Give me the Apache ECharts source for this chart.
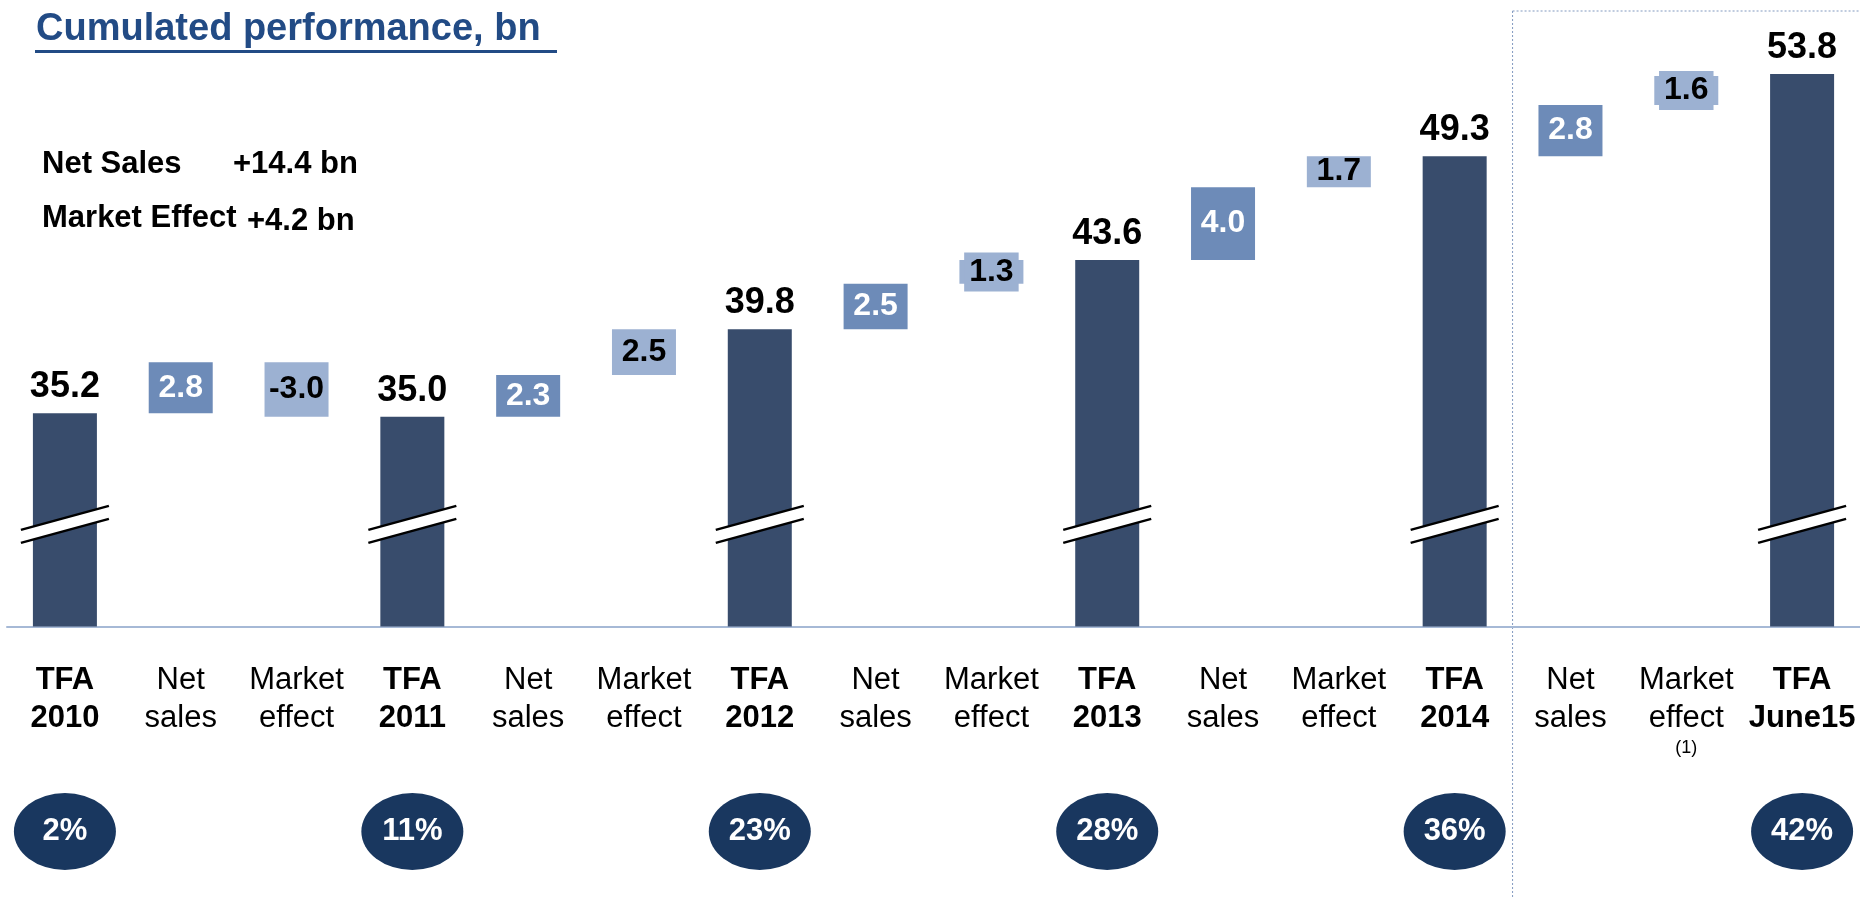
<!DOCTYPE html>
<html>
<head>
<meta charset="utf-8">
<title>Cumulated performance</title>
<script src="https://cdn.jsdelivr.net/npm/echarts@6/dist/echarts.min.js"></script>
<style>
html, body { margin: 0; padding: 0; background: #fff; }
#main { width: 1860px; height: 899px; }
</style>
</head>
<body>
<div id="main"></div>
<script>
// x axis categories
var categories = ['TFA\n2010', 'Net\nsales', 'Market\neffect', 'TFA\n2011', 'Net\nsales', 'Market\neffect',
    'TFA\n2012', 'Net\nsales', 'Market\neffect', 'TFA\n2013', 'Net\nsales', 'Market\neffect',
    'TFA\n2014', 'Net\nsales', 'Market\neffect\n(1)', 'TFA\nJune15'];
// TFA totals, bn
var totalIdx = [0, 3, 6, 9, 12, 15];
var totals = [35.2, 35.0, 39.8, 43.6, 49.3, 53.8];
// steps between two totals
var netSales = [2.8, 2.3, 2.5, 4.0, 2.8];
var marketEffect = [-3.0, 2.5, 1.3, 1.7, 1.6];
// percentages in the circles
var shares = [2, 11, 23, 28, 36, 42];
var summary = [['Net Sales', '+14.4 bn'], ['Market Effect', '+4.2 bn']];
var titleText = 'Cumulated performance, bn';
var breakAt = 29.1; // where the axis break is drawn

var FONT = '"Liberation Sans", Arial, sans-serif';
var cDark = '#384c6c', cNet = '#6d8bb8', cMkt = '#9cb1d2', cCircle = '#19375f', cTitle = '#224b85';

var chart = echarts.init(document.getElementById('main'));

// waterfall: invisible base + visible part
var n = categories.length;
var base = [], totalData = [], netData = [], mktData = [];
for (var i = 0; i < n; i++) { base.push('-'); totalData.push('-'); netData.push('-'); mktData.push('-'); }
for (var k = 0; k < totals.length; k++) {
    base[totalIdx[k]] = 0;
    totalData[totalIdx[k]] = totals[k];
}
for (var k = 0; k < netSales.length; k++) {
    var a = totalIdx[k] + 1, b = a + 1;
    var level = totals[k];
    base[a] = level;
    netData[a] = netSales[k];
    level += netSales[k];
    var m = marketEffect[k];
    base[b] = Math.min(level, level + m);
    var item = { value: Math.abs(m), real: m };
    // short boxes: label box sticks out of the bar
    if (Math.abs(m) < 1.65) {
        item.label = { backgroundColor: cMkt, padding: [4, 5] };
    }
    mktData[b] = item;
}

var breakData = totalIdx.map(function (i) { return [i, breakAt]; });
var circleData = totalIdx.map(function (i, k) { return [i, 0, shares[k]]; });

chart.setOption({
    animation: false,
    grid: [
        { left: 7, width: 1854, top: 34, bottom: 272.5 },
        { left: 7, width: 1854, top: 793, height: 77 }
    ],
    xAxis: [{
        type: 'category',
        data: categories,
        gridIndex: 0,
        axisTick: { show: false },
        axisLine: { lineStyle: { color: '#a6b9d6', width: 2 } },
        axisLabel: {
            interval: 0,
            margin: 35,
            formatter: function (v, idx) {
                var st = totalIdx.indexOf(idx) >= 0 ? 'b' : 'n';
                return v.split('\n').map(function (t) {
                    return t.charAt(0) === '(' ? '{s|' + t + '}' : '{' + st + '|' + t + '}';
                }).join('\n');
            },
            rich: {
                b: { fontFamily: FONT, fontSize: 31, fontWeight: 'bold', lineHeight: 38, color: '#000' },
                n: { fontFamily: FONT, fontSize: 31, lineHeight: 38, color: '#000' },
                s: { fontFamily: FONT, fontSize: 18, lineHeight: 22, color: '#000' }
            }
        }
    }, {
        type: 'category', data: categories, gridIndex: 1, show: false
    }],
    yAxis: [
        { type: 'value', gridIndex: 0, min: 23.5, max: 56, show: false, splitLine: { show: false } },
        { type: 'value', gridIndex: 1, min: -1, max: 1, show: false, splitLine: { show: false } }
    ],
    series: [
        {
            name: 'base', type: 'bar', stack: 'w', barWidth: 64, silent: true,
            itemStyle: { color: 'rgba(0,0,0,0)' }, data: base
        },
        {
            name: 'TFA', type: 'bar', stack: 'w', barWidth: 64,
            itemStyle: { color: cDark },
            label: {
                show: true, position: 'top', distance: 8,
                fontFamily: FONT, fontSize: 36, fontWeight: 'bold', color: '#000',
                formatter: function (p) { return p.value.toFixed(1); }
            },
            data: totalData
        },
        {
            name: 'Net sales', type: 'bar', stack: 'w', barWidth: 64,
            itemStyle: { color: cNet },
            label: {
                show: true, position: 'inside',
                fontFamily: FONT, fontSize: 32, fontWeight: 'bold', color: '#fff', lineHeight: 31,
                formatter: function (p) { return p.value.toFixed(1); }
            },
            data: netData
        },
        {
            name: 'Market effect', type: 'bar', stack: 'w', barWidth: 64,
            itemStyle: { color: cMkt },
            label: {
                show: true, position: 'inside',
                fontFamily: FONT, fontSize: 32, fontWeight: 'bold', color: '#000', lineHeight: 31,
                formatter: function (p) { return p.data.real.toFixed(1); }
            },
            data: mktData
        },
        {
            // axis break marks on the total bars
            type: 'custom', z: 5, silent: true,
            renderItem: function (params, api) {
                var p = api.coord([api.value(0), api.value(1)]);
                var cx = p[0], cy = p[1], hw = 44, rise = 12, gap = 6.5;
                return {
                    type: 'group',
                    children: [{
                        type: 'polygon',
                        shape: { points: [[cx - hw, cy - gap + rise], [cx + hw, cy - gap - rise], [cx + hw, cy + gap - rise], [cx - hw, cy + gap + rise]] },
                        style: { fill: '#fff' }
                    }, {
                        type: 'line',
                        shape: { x1: cx - hw, y1: cy - gap + rise, x2: cx + hw, y2: cy - gap - rise },
                        style: { stroke: '#000', lineWidth: 2.5 }
                    }, {
                        type: 'line',
                        shape: { x1: cx - hw, y1: cy + gap + rise, x2: cx + hw, y2: cy + gap - rise },
                        style: { stroke: '#000', lineWidth: 2.5 }
                    }]
                };
            },
            data: breakData
        },
        {
            type: 'scatter', xAxisIndex: 1, yAxisIndex: 1,
            symbol: 'path://M0,1 A1,1 0 1,1 2,1 A1,1 0 1,1 0,1 Z',
            symbolSize: [102, 77],
            itemStyle: { color: cCircle, opacity: 1 },
            label: {
                show: true, position: 'inside',
                fontFamily: FONT, fontSize: 31, fontWeight: 'bold', color: '#fff',
                formatter: function (p) { return p.data[2] + '%'; }
            },
            data: circleData
        }
    ]
});

// dotted frame around the 2015 part, between TFA 2014 and Net sales
var xSplit = (chart.convertToPixel({ xAxisIndex: 0 }, 12) + chart.convertToPixel({ xAxisIndex: 0 }, 13)) / 2;
var txt = function (s, x, y) {
    return { type: 'text', style: { text: s, x: x, y: y, fill: '#000', font: 'bold 31px ' + FONT, verticalAlign: 'middle' } };
};
chart.setOption({
    graphic: [
        { type: 'text', style: { text: titleText, x: 36, y: 30, fill: cTitle, font: 'bold 38px ' + FONT, verticalAlign: 'middle' } },
        { type: 'line', shape: { x1: 35, y1: 51.5, x2: 557, y2: 51.5 }, style: { stroke: cTitle, lineWidth: 3 } },
        txt(summary[0][0], 42, 164), txt(summary[0][1], 233, 164),
        txt(summary[1][0], 42, 218), txt(summary[1][1], 247, 221),
        { type: 'line', shape: { x1: xSplit, y1: 11, x2: xSplit, y2: 899 }, style: { stroke: '#8299c0', lineWidth: 1, lineDash: [2, 2] } },
        { type: 'line', shape: { x1: xSplit, y1: 11, x2: 1860, y2: 11 }, style: { stroke: '#8299c0', lineWidth: 1, lineDash: [2, 2] } }
    ]
});
</script>
</body>
</html>
